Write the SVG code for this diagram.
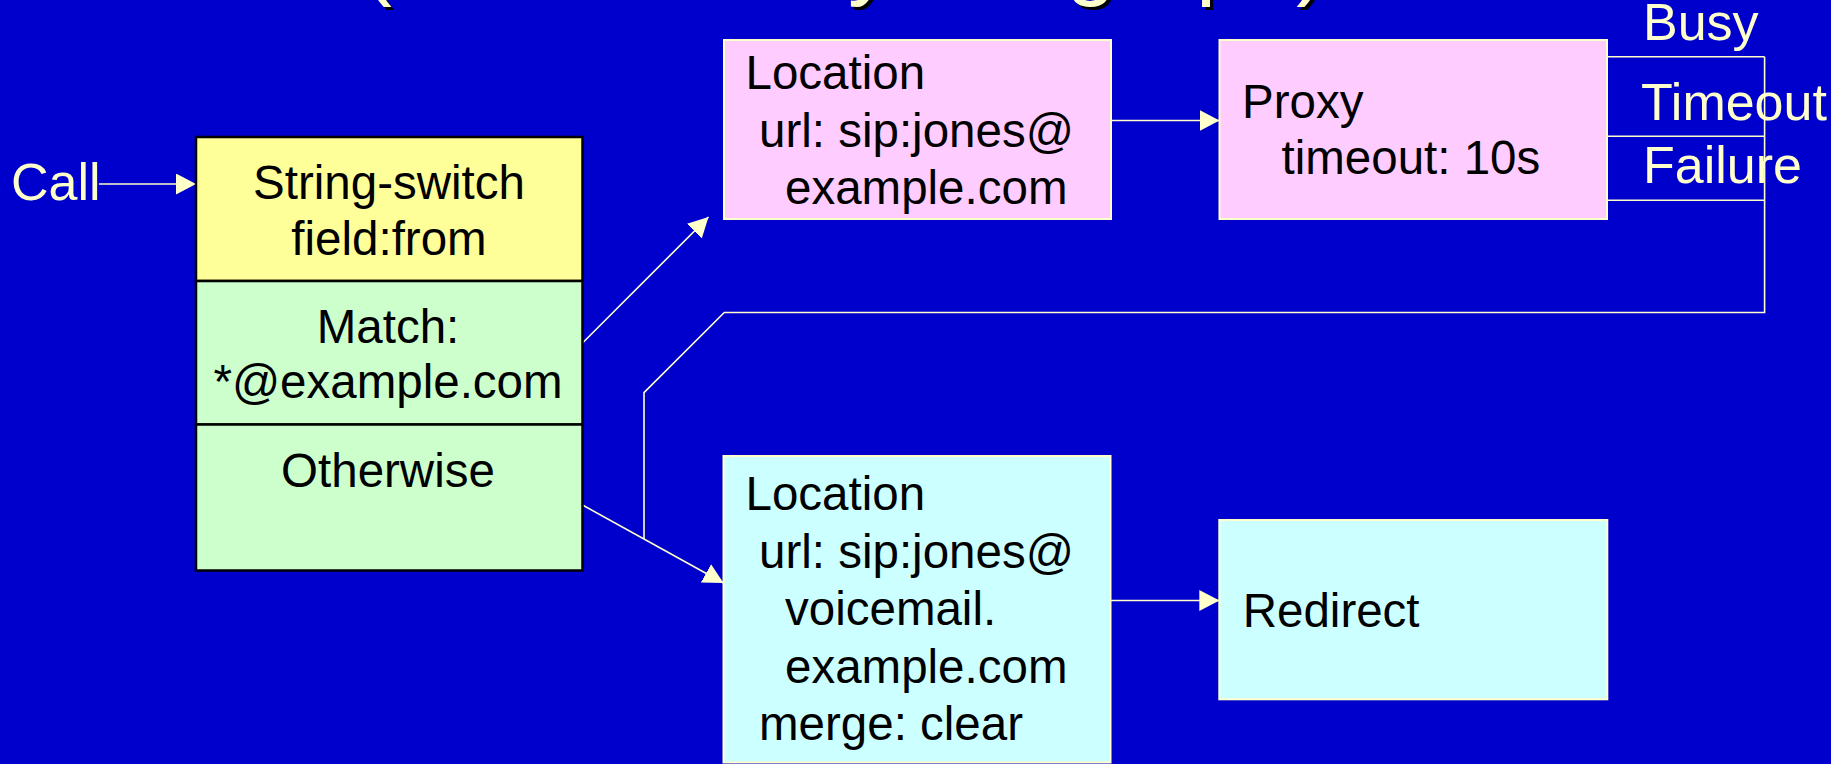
<svg xmlns="http://www.w3.org/2000/svg" width="1831" height="764" viewBox="0 0 1831 764">
  <defs>
    <style>
      .bg { fill: #0000CC; }
      .title { font-family: "Liberation Sans", Arial, sans-serif; font-size: 90px; fill: #FFFFCC; }
      .title-shadow { font-family: "Liberation Sans", Arial, sans-serif; font-size: 90px; fill: #000000; }
      .label { font-family: "Liberation Sans", Arial, sans-serif; font-size: 52px; fill: #FFFFCC; }
      .node-text { font-family: "Liberation Sans", Arial, sans-serif; font-size: 47.5px; fill: #000000; }
      .mid { text-anchor: middle; }
      .switch-head { fill: #FFFF99; stroke: #000000; stroke-width: 2.5; }
      .switch-case { fill: #CCFFCC; stroke: #000000; stroke-width: 2.5; }
      .pink { fill: #FFCCFF; stroke: #FFFFCC; stroke-width: 2; }
      .cyan { fill: #CCFFFF; stroke: #FFFFCC; stroke-width: 2; }
      .wire { fill: none; stroke: #FFFFCC; stroke-width: 1.6; }
    </style>
    <marker id="arrow" viewBox="0 0 20 21" refX="20" refY="10.5" markerWidth="20" markerHeight="21" markerUnits="userSpaceOnUse" orient="auto">
      <path d="M0,0 L20,10.5 L0,21 z" fill="#FFFFCC"/>
    </marker>
  </defs>

  <rect class="bg" x="0" y="0" width="1831" height="764"/>

  <!-- slide title (runs off the top edge) -->
  <g id="title">
    <text class="title-shadow" y="-9"><tspan x="365">(Described</tspan><tspan x="801">by</tspan><tspan x="921">the</tspan><tspan x="1069">graph)</tspan></text>
    <text class="title" y="-12"><tspan x="362">(Described</tspan><tspan x="798">by</tspan><tspan x="918">the</tspan><tspan x="1066">graph)</tspan></text>
  </g>

  <!-- connectors -->
  <g id="connectors">
    <line class="wire" x1="99" y1="184" x2="196" y2="184" marker-end="url(#arrow)"/>
    <line class="wire" x1="582.5" y1="343" x2="708.5" y2="217" marker-end="url(#arrow)"/>
    <line class="wire" x1="582.5" y1="505" x2="723.5" y2="583" marker-end="url(#arrow)"/>
    <line class="wire" x1="1111" y1="120.5" x2="1219.5" y2="120.5" marker-end="url(#arrow)"/>
    <line class="wire" x1="1110.5" y1="600.5" x2="1219.3" y2="600.5" marker-end="url(#arrow)"/>
    <!-- proxy outcomes gathered into the fallback route -->
    <line class="wire" x1="1607" y1="56.7" x2="1764.6" y2="56.7"/>
    <line class="wire" x1="1607" y1="136.3" x2="1764.6" y2="136.3"/>
    <line class="wire" x1="1607" y1="200.3" x2="1764.6" y2="200.3"/>
    <polyline class="wire" points="1764.6,56.7 1764.6,312.5 724.3,312.5 644,392.7 644,539"/>
  </g>

  <g id="call">
    <text class="label" x="11" y="200">Call</text>
  </g>

  <g id="string-switch">
    <rect class="switch-head" x="196" y="137" width="386.5" height="144"/>
    <rect class="switch-case" x="196" y="281" width="386.5" height="143.5"/>
    <rect class="switch-case" x="196" y="424.5" width="386.5" height="146"/>
    <text class="node-text mid" x="389" y="199">String-switch</text>
    <text class="node-text mid" x="389" y="255">field:from</text>
    <text class="node-text mid" x="388" y="342.7">Match:</text>
    <text class="node-text mid" x="388" y="397.7">*@example.com</text>
    <text class="node-text mid" x="388" y="486.7">Otherwise</text>
  </g>

  <g id="location-jones">
    <rect class="pink" x="724" y="40" width="387" height="179"/>
    <text class="node-text" x="745.5" y="89">Location</text>
    <text class="node-text" x="759" y="146.5">url: sip:jones@</text>
    <text class="node-text" x="785" y="203.5">example.com</text>
  </g>

  <g id="proxy">
    <rect class="pink" x="1219.5" y="40" width="387.5" height="179"/>
    <text class="node-text" x="1242" y="118.3">Proxy</text>
    <text class="node-text" x="1281.5" y="174">timeout: 10s</text>
  </g>

  <g id="outcomes">
    <text class="label" x="1643" y="40">Busy</text>
    <text class="label" x="1641" y="120">Timeout</text>
    <text class="label" x="1643" y="183.3">Failure</text>
  </g>

  <g id="location-voicemail">
    <rect class="cyan" x="723.5" y="456" width="387" height="306.5"/>
    <text class="node-text" x="745.5" y="510">Location</text>
    <text class="node-text" x="759" y="567.5">url: sip:jones@</text>
    <text class="node-text" x="785" y="625">voicemail.</text>
    <text class="node-text" x="785" y="682.5">example.com</text>
    <text class="node-text" x="759" y="740">merge: clear</text>
  </g>

  <g id="redirect">
    <rect class="cyan" x="1219.3" y="520" width="388" height="179.3"/>
    <text class="node-text" x="1242.7" y="626.7">Redirect</text>
  </g>
</svg>
